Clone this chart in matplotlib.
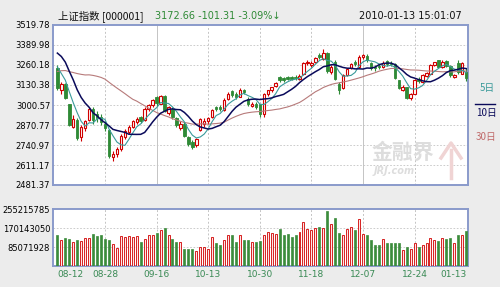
import matplotlib
matplotlib.use('Agg')
import matplotlib.pyplot as plt
import numpy as np
from matplotlib.lines import Line2D

CJK = ['Noto Sans CJK SC', 'DejaVu Sans']

dates = ["08-12","08-13","08-14","08-17","08-18","08-19","08-20","08-21","08-24","08-25","08-26","08-27","08-28","08-31",
         "09-01","09-02","09-03","09-04","09-07","09-08","09-09","09-10","09-11","09-14","09-15","09-16","09-17","09-18",
         "09-21","09-22","09-23","09-24","09-25","09-28","09-29","09-30",
         "10-09","10-12","10-13","10-14","10-15","10-16","10-19","10-20","10-21","10-22","10-23","10-26","10-27","10-28","10-29","10-30",
         "11-02","11-03","11-04","11-05","11-06","11-09","11-10","11-11","11-12","11-13","11-16","11-17","11-18","11-19","11-20",
         "11-23","11-24","11-25","11-26","11-27","11-30",
         "12-01","12-02","12-03","12-04","12-07","12-08","12-09","12-10","12-11","12-14","12-15","12-16","12-17","12-18",
         "12-21","12-22","12-23","12-24","12-25","12-28","12-29","12-30","12-31",
         "01-04","01-05","01-06","01-07","01-08","01-11","01-12","01-13"]

opens = [3240,3098,3135,3005,2855,2905,2795,2850,2900,2975,2945,2925,2880,2840,
         2665,2680,2715,2790,2825,2855,2890,2920,2900,2975,3000,3050,3010,3060,
         2950,2975,2915,2850,2880,2790,2760,2740,
         2840,2880,2895,2920,2985,2990,2965,3040,3090,3075,3055,3095,3040,2995,3010,3005,
         2940,3070,3095,3125,3180,3175,3185,3180,3185,3170,3200,3270,3262,3280,3325,
         3300,3340,3215,3280,3140,3110,
         3195,3240,3280,3250,3310,3320,3270,3250,3255,3245,3285,3275,3265,3160,
         3100,3115,3045,3075,3170,3150,3190,3205,3262,
         3290,3245,3285,3255,3185,3270,3205,3215]
highs = [3262,3150,3145,3010,2935,2915,2870,2905,2985,2990,2960,2940,2895,2845,
         2705,2725,2810,2845,2870,2905,2920,2930,2985,3010,3040,3060,3068,3065,
         2995,2985,2925,2895,2890,2800,2775,2785,
         2915,2915,2920,2975,2995,3000,3045,3085,3095,3085,3110,3105,3050,3020,3020,3010,
         3080,3100,3120,3150,3190,3185,3190,3190,3195,3200,3280,3290,3285,3312,3335,
         3361,3345,3260,3290,3150,3200,
         3240,3275,3290,3325,3330,3330,3280,3260,3265,3285,3295,3285,3270,3165,
         3130,3120,3080,3170,3180,3200,3215,3265,3280,
         3295,3290,3295,3260,3200,3290,3280,3240]
lows = [3100,3070,3040,2865,2850,2775,2770,2835,2895,2880,2890,2870,2835,2655,
        2639,2660,2705,2780,2815,2850,2875,2885,2895,2960,2990,2995,3005,2955,
        2935,2910,2860,2840,2790,2735,2712,2725,
        2835,2860,2880,2915,2960,2960,2960,3035,3050,3040,3050,3075,2995,2985,2975,2920,
        2920,3060,3085,3115,3150,3150,3160,3165,3165,3160,3195,3260,3250,3275,3300,
        3295,3210,3200,3160,3070,3105,
        3190,3235,3255,3245,3300,3280,3225,3220,3235,3240,3255,3255,3170,3105,
        3090,3040,3035,3070,3145,3145,3180,3200,3255,
        3240,3240,3250,3185,3175,3205,3200,3155]
closes = [3112,3140,3046,2870,2910,2785,2860,2895,2975,2905,2915,2890,2850,2667,
          2683,2712,2800,2830,2860,2895,2910,2895,2975,3000,3030,3015,3062,2960,
          2985,2920,2870,2880,2800,2745,2730,2779,
          2911,2895,2915,2965,2975,2975,3035,3075,3065,3055,3100,3085,3005,3010,2985,2945,
          3070,3095,3115,3145,3165,3160,3170,3172,3175,3190,3275,3282,3272,3305,3310,
          3338,3223,3250,3170,3096,3195,
          3235,3268,3265,3315,3322,3290,3239,3238,3247,3275,3265,3268,3177,3113,
          3120,3049,3073,3163,3154,3195,3210,3262,3277,
          3244,3282,3254,3193,3196,3213,3274,3173]
# closes of the 29 sessions before 08-12 (needed for the moving averages)
prior_closes = [2990,3009,3088,3080,2990,3011,3014,2952,3015,3087,3107,3189,3266,3262,3266,
                3337,3372,3435,3434,3265,3360,3412,3462,3471,3428,3356,3260,3247,3266]
volumes_m = [139,116,128,124,108,116,113,128,127,144,135,139,124,119,
             101,82,135,131,136,131,135,108,124,142,142,150,162,170,
             139,124,108,108,77,77,77,70,
             88,88,77,131,104,97,119,142,142,108,139,116,119,108,108,111,
             139,152,150,147,167,142,144,131,139,152,201,167,162,170,175,
             170,248,189,217,150,139,
             167,175,162,212,147,139,116,96,93,121,105,105,105,105,
             74,88,77,105,88,93,105,127,116,
             111,128,124,128,104,139,139,158]

price_ticks = [2481.37, 2611.17, 2740.97, 2870.77, 3000.57, 3130.38, 3260.18, 3389.98, 3519.78]
vol_ticks = [85071928, 170143050, 255215785]
shown_dates = ["08-12","08-28","09-16","10-13","10-30","11-18","12-07","12-24","01-13"]

x = np.arange(len(dates))
O = np.array(opens); H = np.array(highs); L = np.array(lows); C = np.array(closes)
up = C >= O
allc = np.array(prior_closes + closes, dtype=float)
def ma(n):
    m = np.convolve(allc, np.ones(n) / n, mode='valid')
    return m[-len(closes):]

RED = '#d00000'; GREEN = '#2f8a36'
BG = '#ececec'; SPINE = '#8a9acb'; GRID = '#c4c4c4'

fig = plt.figure(figsize=(5.0, 2.87), dpi=100, facecolor=BG)
ax = fig.add_axes([53/500, 1-185/287, 415/500, 160/287])
ax2 = fig.add_axes([53/500, 1-266/287, 415/500, 57/287])

for a in (ax, ax2):
    a.set_facecolor('white')
    for s in a.spines.values():
        s.set_color(SPINE); s.set_linewidth(1.4)
    a.tick_params(length=0, labelsize=6, pad=2)
    a.set_xlim(-1.1, 103.45)

# candles
ax.vlines(x[up], L[up], H[up], color=RED, lw=0.8, zorder=3)
ax.vlines(x[~up], L[~up], H[~up], color=GREEN, lw=0.8, zorder=3)
bh = np.abs(C - O); bh = np.where(bh < 2, 2, bh)
ax.bar(x[up], bh[up], bottom=np.minimum(O, C)[up], width=0.62, facecolor='white', edgecolor=RED, lw=0.8, zorder=4)
ax.bar(x[~up], bh[~up], bottom=np.minimum(O, C)[~up], width=0.62, facecolor=GREEN, edgecolor=GREEN, lw=0.6, zorder=4)

ax.plot(x, ma(30), color='#b77a7a', lw=0.8, zorder=5)
ax.plot(x, ma(5), color='#3a9a9a', lw=0.8, zorder=5)
ax.plot(x, ma(10), color='#0a0a5a', lw=1.1, zorder=5)

ax.set_ylim(price_ticks[0], price_ticks[-1])
ax.set_yticks(price_ticks)
ax.set_yticklabels([f"{v:.2f}" for v in price_ticks])
ax.set_xticks([])

grid_idx = [dates.index(d) for d in shown_dates[1:-1]]
for p in price_ticks[1:-1]:
    ax.axhline(p, color=GRID, lw=0.6, ls=(0, (2, 2)), zorder=1)
for k, gi in enumerate(grid_idx):
    ls = '-' if shown_dates[k + 1] in ("09-16", "12-07") else (0, (2, 2))
    ax.axvline(gi, color=GRID, lw=0.7, ls=ls, zorder=1)
    ax2.axvline(gi, color=GRID, lw=0.7, ls=(0, (2, 2)), zorder=1)

# volume
V = np.array(volumes_m) * 1e6
ax2.bar(x[up], V[up], width=0.5, facecolor='#fde6e6', edgecolor=RED, lw=0.6, zorder=3)
ax2.bar(x[~up], V[~up], width=0.5, facecolor='#3c8c3c', edgecolor='#3c8c3c', lw=0.5, zorder=3)
ax2.set_ylim(0, 2.58e8)
ax2.set_yticks(vol_ticks)
ax2.set_yticklabels([str(v) for v in vol_ticks])
for v in vol_ticks[:-1]:
    ax2.axhline(v, color=GRID, lw=0.6, ls=(0, (2, 2)), zorder=1)
tick_pos = [dates.index(d) for d in shown_dates]
ax2.set_xticks(tick_pos)
ax2.set_xticklabels(shown_dates, color='#3a8a55', fontsize=6.5)
labs = ax2.get_xticklabels()
labs[0].set_ha('left'); labs[-1].set_ha('right')
ax2.tick_params(axis='x', pad=3)

# header
fig.text(58/500, 1-16/287, "上证指数 [000001]", fontsize=7.5, family=CJK, va='center', color='#111111')
fig.text(155/500, 1-16/287, "3172.66 -101.31 -3.09%↓", fontsize=7, va='center', color='#2f8a36')
fig.text(462/500, 1-16/287, "2010-01-13 15:01:07", fontsize=7, va='center', ha='right', color='#111111')

# legend
fig.text(487/500, 1-88/287, "5日", fontsize=7, family=CJK, ha='center', va='center', color='#3a9a9a')
fig.add_artist(Line2D([475/500, 495/500], [1-104/287, 1-104/287], color='#0a0a5a', lw=1))
fig.text(486/500, 1-113/287, "10日", fontsize=7, family=CJK, ha='center', va='center', color='#0a0a5a')
fig.text(486/500, 1-137/287, "30日", fontsize=7, family=CJK, ha='center', va='center', color='#c06a6a')

# watermark
fig.text(372/500, 1-152/287, "金融界", fontsize=15, family=CJK, va='center', color='#dddddd', weight='bold', zorder=0)
fig.text(374/500, 1-171/287, "JRJ.com", fontsize=7, va='center', color='#dddddd', style='italic', weight='bold')
fig.add_artist(Line2D([441/500, 451/500, 461/500], [1-158/287, 1-143/287, 1-158/287], color='#f0d4d4', lw=2.5))
fig.add_artist(Line2D([451/500, 451/500], [1-150/287, 1-178/287], color='#f0d4d4', lw=2.5))

fig.savefig('out.png', dpi=100, facecolor=BG)
